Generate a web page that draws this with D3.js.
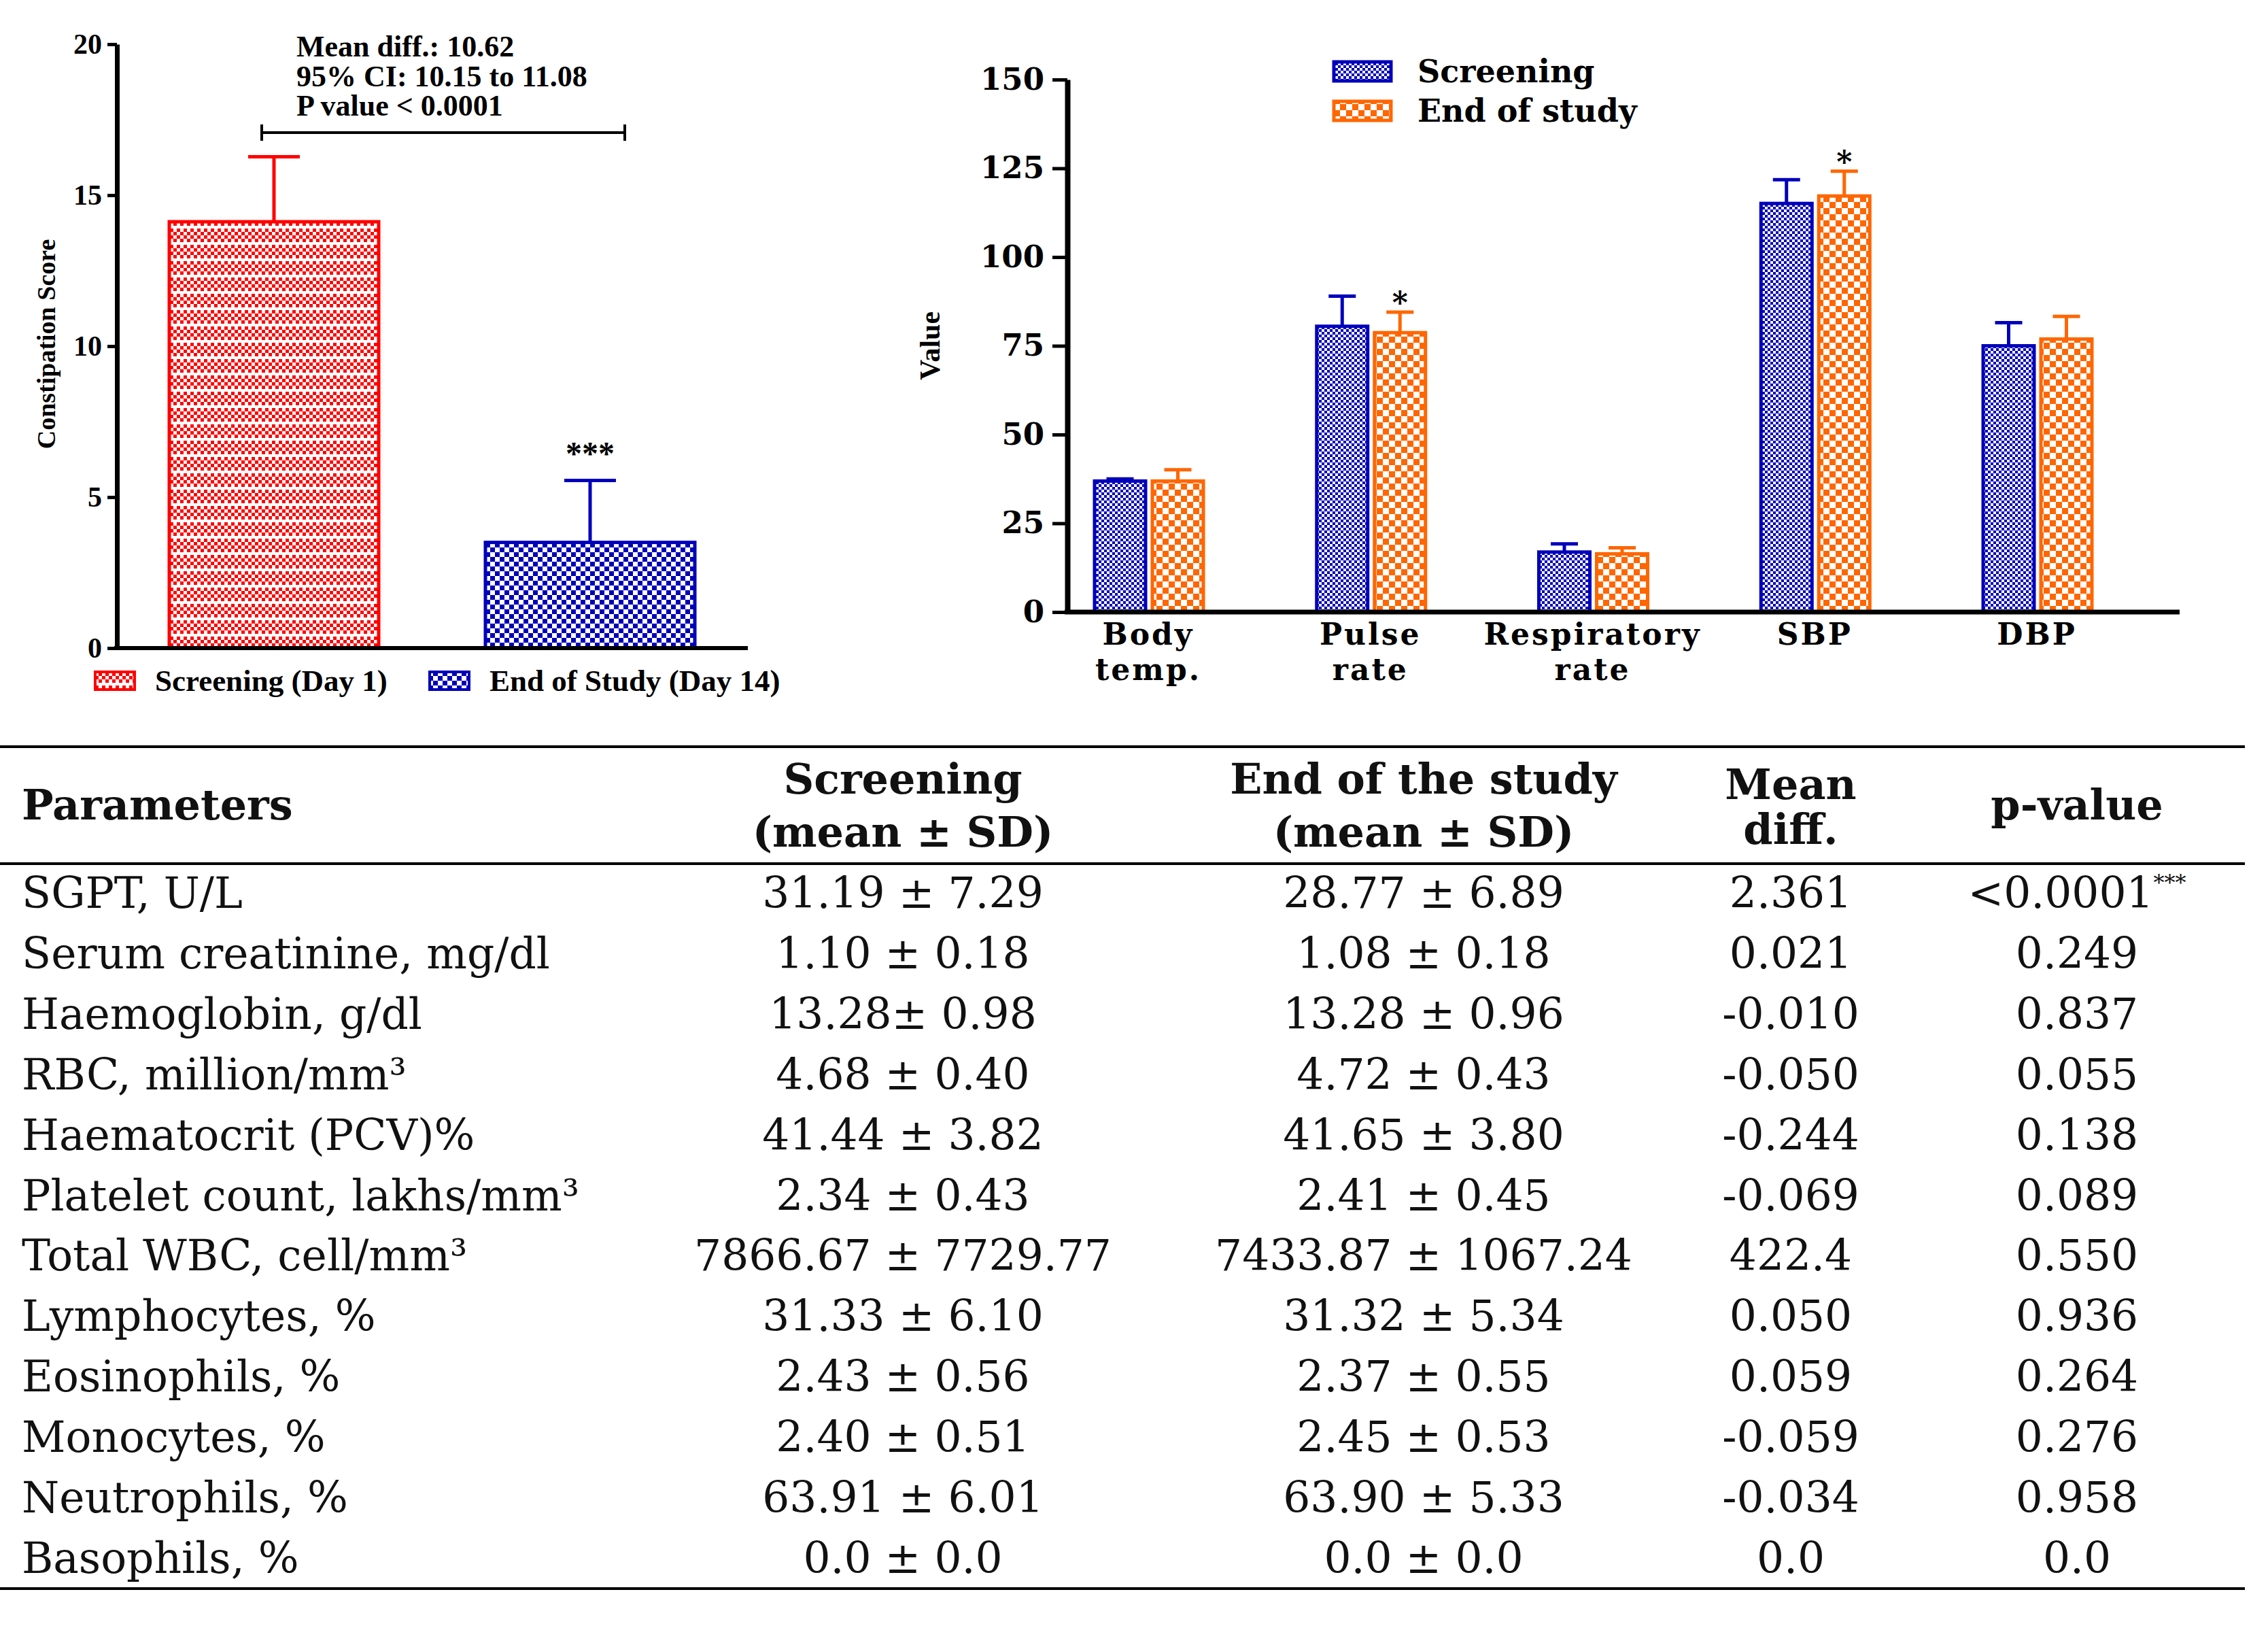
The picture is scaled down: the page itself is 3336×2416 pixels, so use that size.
<!DOCTYPE html>
<html><head><meta charset="utf-8">
<script src="https://cdn.jsdelivr.net/npm/d3@7"></script>
<style>body{margin:0;background:#fff}svg{display:block}</style>
</head><body><script>
// ---------------- DATA ----------------
const constipationGroups = ["Screening (Day 1)", "End of Study (Day 14)"];
const constipationMean = [14.12, 3.5];
const constipationSD = [2.15, 2.05];
const constipationTicks = [0, 5, 10, 15, 20];
const constipationStars = ["", "***"];
const constipationNote = ["Mean diff.: 10.62", "95% CI: 10.15 to 11.08", "P value < 0.0001"];

const vitalCategories = [["Body", "temp."], ["Pulse", "rate"], ["Respiratory", "rate"], ["SBP"], ["DBP"]];
const vitalSeries = ["Screening", "End of study"];
const vitalScreeningMean = [36.9, 80.5, 16.9, 115.1, 75.0];
const vitalScreeningSD = [0.6, 8.5, 2.3, 6.7, 6.5];
const vitalEndMean = [36.9, 78.7, 16.4, 117.2, 76.9];
const vitalEndSD = [3.2, 5.8, 1.7, 7.0, 6.4];
const vitalEndStars = ["", "*", "", "*", ""];
const vitalTicks = [0, 25, 50, 75, 100, 125, 150];

const tableHeaders = [["Parameters"], ["Screening", "(mean ± SD)"], ["End of the study", "(mean ± SD)"], ["Mean", "diff."], ["p-value"]];
const tableParameters = ["SGPT, U/L", "Serum creatinine, mg/dl", "Haemoglobin, g/dl", "RBC, million/mm³", "Haematocrit (PCV)%", "Platelet count, lakhs/mm³", "Total WBC, cell/mm³", "Lymphocytes, %", "Eosinophils, %", "Monocytes, %", "Neutrophils, %", "Basophils, %"];
const tableScreening = ["31.19 ± 7.29", "1.10 ± 0.18", "13.28± 0.98", "4.68 ± 0.40", "41.44 ± 3.82", "2.34 ± 0.43", "7866.67 ± 7729.77", "31.33 ± 6.10", "2.43 ± 0.56", "2.40 ± 0.51", "63.91 ± 6.01", "0.0 ± 0.0"];
const tableEnd = ["28.77 ± 6.89", "1.08 ± 0.18", "13.28 ± 0.96", "4.72 ± 0.43", "41.65 ± 3.80", "2.41 ± 0.45", "7433.87 ± 1067.24", "31.32 ± 5.34", "2.37 ± 0.55", "2.45 ± 0.53", "63.90 ± 5.33", "0.0 ± 0.0"];
const tableMeanDiff = ["2.361", "0.021", "-0.010", "-0.050", "-0.244", "-0.069", "422.4", "0.050", "0.059", "-0.059", "-0.034", "0.0"];
const tablePValue = ["<0.0001", "0.249", "0.837", "0.055", "0.138", "0.089", "0.550", "0.936", "0.264", "0.276", "0.958", "0.0"];
const tablePValueMark = ["***", "", "", "", "", "", "", "", "", "", "", ""];

// ---------------- STYLE ----------------
const RED = "#ff0000", BLUE = "#0000bb", ORANGE = "#ff6600";
const TIMES = "'Liberation Serif', 'Times New Roman', serif";
const WIDE = "'DejaVu Serif', serif";

const W = 3336, H = 2416;
const svg = d3.select("body").append("svg").attr("width", W).attr("height", H);
svg.append("rect").attr("width", W).attr("height", H).attr("fill", "#fff");
const defs = svg.append("defs");

function checker(id, color, cell, band) {
  const h = band ? cell * 4 + band : cell * 2;
  const p = defs.append("pattern").attr("id", id).attr("patternUnits", "userSpaceOnUse")
    .attr("width", cell * 2).attr("height", h);
  p.append("rect").attr("width", cell * 2).attr("height", h).attr("fill", "#fff");
  const rows = band ? 4 : 2;
  for (let r = 0; r < rows; r++) {
    p.append("rect").attr("x", (r % 2) * cell).attr("y", r * cell)
      .attr("width", cell).attr("height", cell).attr("fill", color);
  }
}
checker("pRed", RED, 5, 4);
checker("pBlueL", BLUE, 7);
checker("pBlueR", BLUE, 4);
checker("pOrange", ORANGE, 9);

// ================= LEFT CHART =================
const yL = d3.scaleLinear().domain([0, 20]).range([953, 65]);
const xL = d3.scalePoint().domain(constipationGroups).range([403, 868]);
const barWL = 308;
const leftFill = ["url(#pRed)", "url(#pBlueL)"];
const leftColor = [RED, BLUE];

const gL = svg.append("g");
gL.selectAll("rect.bar").data(constipationGroups).join("rect")
  .attr("x", d => xL(d) - barWL / 2).attr("width", barWL)
  .attr("y", (d, i) => yL(constipationMean[i]))
  .attr("height", (d, i) => yL(0) - yL(constipationMean[i]))
  .attr("fill", (d, i) => leftFill[i]).attr("stroke", (d, i) => leftColor[i]).attr("stroke-width", 5);
constipationGroups.forEach((d, i) => {
  const top = yL(constipationMean[i] + constipationSD[i]);
  gL.append("line").attr("x1", xL(d)).attr("x2", xL(d)).attr("y1", yL(constipationMean[i])).attr("y2", top)
    .attr("stroke", leftColor[i]).attr("stroke-width", 5);
  gL.append("line").attr("x1", xL(d) - 38).attr("x2", xL(d) + 38).attr("y1", top).attr("y2", top)
    .attr("stroke", leftColor[i]).attr("stroke-width", 5);
  if (constipationStars[i]) {
    gL.append("text").attr("x", xL(d)).attr("y", top - 24).attr("text-anchor", "middle")
      .attr("font-family", TIMES).attr("font-weight", "bold").attr("font-size", 48).text(constipationStars[i]);
  }
});
const axL = gL.append("g").attr("transform", "translate(172,0)")
  .call(d3.axisLeft(yL).tickValues(constipationTicks).tickSize(14).tickPadding(8).tickSizeOuter(0));
axL.select(".domain").attr("stroke", "#000").attr("stroke-width", 7);
axL.selectAll(".tick line").attr("stroke", "#000").attr("stroke-width", 5);
axL.selectAll(".tick text").attr("font-family", TIMES).attr("font-weight", "bold").attr("font-size", 42).attr("fill", "#000");
gL.append("line").attr("x1", 168).attr("x2", 1100).attr("y1", yL(0)).attr("y2", yL(0)).attr("stroke", "#000").attr("stroke-width", 6);
gL.append("text").attr("transform", `translate(68,${(yL(0) + yL(20)) / 2 - 3}) rotate(-90)`)
  .attr("text-anchor", "middle").attr("dominant-baseline", "central")
  .attr("font-family", TIMES).attr("font-weight", "bold").attr("font-size", 38).text("Constipation Score");
const bx0 = xL(constipationGroups[0]) - 18, bx1 = xL(constipationGroups[1]) + 51, by = 195;
gL.append("path").attr("d", `M${bx0},${by - 12}V${by + 12}M${bx0},${by}H${bx1}M${bx1},${by - 12}V${by + 12}`)
  .attr("fill", "none").attr("stroke", "#000").attr("stroke-width", 4);
gL.selectAll("text.note").data(constipationNote).join("text").attr("class", "note")
  .attr("x", 436).attr("y", (d, i) => 83 + i * 43.5)
  .attr("font-family", TIMES).attr("font-weight", "bold").attr("font-size", 44).text(d => d);
constipationGroups.forEach((d, i) => {
  const lx = [140, 632][i];
  gL.append("rect").attr("x", lx).attr("y", 988).attr("width", 58).attr("height", 26)
    .attr("fill", leftFill[i]).attr("stroke", leftColor[i]).attr("stroke-width", 4);
  gL.append("text").attr("x", lx + 88).attr("y", 1001).attr("dominant-baseline", "central")
    .attr("font-family", TIMES).attr("font-weight", "bold").attr("font-size", 45).text(d);
});

// ================= RIGHT CHART =================
const yR = d3.scaleLinear().domain([0, 150]).range([900, 117]);
const xR = d3.scalePoint().domain(d3.range(vitalCategories.length)).range([1690, 2997]);
const barWR = 75;
const series = [
  { name: vitalSeries[0], mean: vitalScreeningMean, sd: vitalScreeningSD, fill: "url(#pBlueR)", color: BLUE, off: -80, stars: null },
  { name: vitalSeries[1], mean: vitalEndMean, sd: vitalEndSD, fill: "url(#pOrange)", color: ORANGE, off: 5, stars: vitalEndStars }
];
const gR = svg.append("g");
series.forEach(s => {
  gR.selectAll(null).data(s.mean).join("rect")
    .attr("x", (d, i) => xR(i) + s.off).attr("width", barWR)
    .attr("y", d => yR(d)).attr("height", d => yR(0) - yR(d))
    .attr("fill", s.fill).attr("stroke", s.color).attr("stroke-width", 5);
  s.mean.forEach((m, i) => {
    const cx = xR(i) + s.off + barWR / 2, top = yR(m + s.sd[i]);
    gR.append("line").attr("x1", cx).attr("x2", cx).attr("y1", yR(m)).attr("y2", top).attr("stroke", s.color).attr("stroke-width", 5);
    gR.append("line").attr("x1", cx - 20).attr("x2", cx + 20).attr("y1", top).attr("y2", top).attr("stroke", s.color).attr("stroke-width", 5);
    if (s.stars && s.stars[i]) {
      gR.append("text").attr("x", cx).attr("y", top + 2).attr("text-anchor", "middle")
        .attr("font-family", WIDE).attr("font-weight", "bold").attr("font-size", 44).text(s.stars[i]);
    }
  });
});
const axR = gR.append("g").attr("transform", "translate(1570,0)")
  .call(d3.axisLeft(yR).tickValues(vitalTicks).tickSize(22).tickPadding(12).tickSizeOuter(0));
axR.select(".domain").attr("stroke", "#000").attr("stroke-width", 8);
axR.selectAll(".tick line").attr("stroke", "#000").attr("stroke-width", 5);
axR.selectAll(".tick text").attr("font-family", WIDE).attr("font-weight", "bold").attr("font-size", 45).attr("fill", "#000");
gR.append("line").attr("x1", 1566).attr("x2", 3206).attr("y1", yR(0)).attr("y2", yR(0)).attr("stroke", "#000").attr("stroke-width", 7);
vitalCategories.forEach((lines, i) => {
  lines.forEach((ln, j) => gR.append("text").attr("text-anchor", "middle")
    .attr("font-family", WIDE).attr("font-weight", "bold").attr("font-size", 44).attr("letter-spacing", 3)
    .attr("x", xR(i) - 1).attr("y", 948 + j * 52).text(ln));
});
gR.append("text").attr("transform", `translate(1368,${(yR(0) + yR(150)) / 2}) rotate(-90)`)
  .attr("text-anchor", "middle").attr("dominant-baseline", "central")
  .attr("font-family", TIMES).attr("font-weight", "bold").attr("font-size", 42).text("Value");
series.forEach((s, i) => {
  const ly = 91 + i * 58;
  gR.append("rect").attr("x", 1962).attr("y", ly).attr("width", 84).attr("height", 28)
    .attr("fill", s.fill).attr("stroke", s.color).attr("stroke-width", 5);
  gR.append("text").attr("x", 2085).attr("y", ly + 14).attr("dominant-baseline", "central")
    .attr("font-family", WIDE).attr("font-weight", "bold").attr("font-size", 46).text(s.name);
});

// ================= TABLE =================
const gT = svg.append("g");
const colX = [32, 1328, 2094, 2634, 3055];
const rowY = d3.scaleLinear().domain([0, tableParameters.length - 1]).range([1313, 2291]);
[1098, 1270, 2336].forEach(y => gT.append("line").attr("x1", 0).attr("x2", 3302).attr("y1", y).attr("y2", y)
  .attr("stroke", "#000").attr("stroke-width", 4));
tableHeaders.forEach((lines, c) => {
  const t = gT.append("text").attr("text-anchor", c === 0 ? "start" : "middle")
    .attr("font-family", WIDE).attr("font-weight", "bold").attr("font-size", 62).attr("fill", "#111");
  const centers = lines.length === 1 ? [1183] : (c === 3 ? [1153, 1219] : [1145, 1223]);
  lines.forEach((ln, j) => t.append("tspan").attr("x", colX[c]).attr("y", centers[j] + 22).text(ln));
});
const cols = [tableParameters, tableScreening, tableEnd, tableMeanDiff];
cols.forEach((arr, c) => {
  gT.selectAll(null).data(arr).join("text")
    .attr("x", colX[c]).attr("y", (d, i) => rowY(i) + 22)
    .attr("text-anchor", c === 0 ? "start" : "middle")
    .attr("font-family", WIDE).attr("font-size", 63).attr("fill", "#111").text(d => d);
});
tablePValue.forEach((p, i) => {
  const t = gT.append("text").attr("x", colX[4]).attr("y", rowY(i) + 22).attr("text-anchor", "middle")
    .attr("font-family", WIDE).attr("font-size", 63).attr("fill", "#111");
  t.append("tspan").text(p);
  if (tablePValueMark[i]) t.append("tspan").attr("font-size", 32).attr("dy", -26).text(tablePValueMark[i]);
});
</script></body></html>
